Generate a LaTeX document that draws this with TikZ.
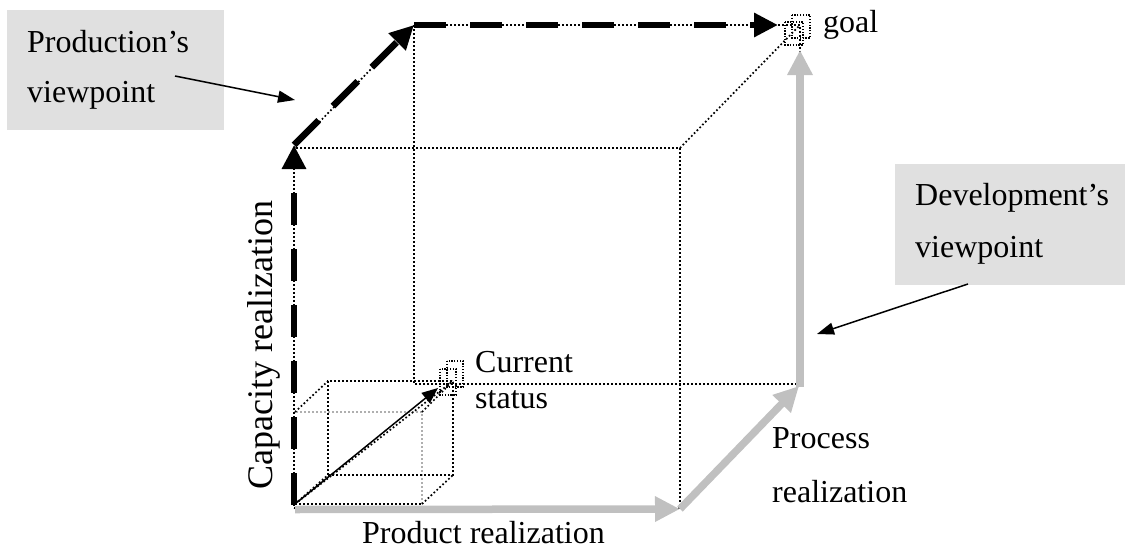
\documentclass[tikz,border=0pt]{standalone}
\usepackage{fontspec}
\setmainfont{Liberation Serif}
\usetikzlibrary{arrows.meta}
\definecolor{lgrey}{RGB}{192,192,192}
\definecolor{hgrey}{RGB}{175,175,175}
\definecolor{boxgrey}{RGB}{224,224,224}
\begin{document}
\begin{tikzpicture}[x=1pt,y=-1pt,
  edge/.style={line width=1.7pt, dash pattern=on 1.7pt off 2.3pt},
  hidden/.style={edge, draw=hgrey},
  fine/.style={line width=1.3pt, dash pattern=on 1.3pt off 1.5pt},
  devpath/.style={draw=lgrey, line width=7.5pt, line cap=butt, -{Triangle[length=25pt 0 0,width=24pt 0 0]}},
  prodthick/.style={line width=6.5pt, dash pattern=on 32pt off 24pt, -{Triangle[length=24pt 0 0,width=23pt 0 0]}},
  pointer/.style={line width=1.5pt, -{Triangle[length=17pt 0 0,width=12pt 0 0]}},
  lbl/.style={font=\fontsize{32}{36}\selectfont, inner sep=0pt},
  vpbox/.style={fill=boxgrey, draw=none, inner sep=0pt},
]
\useasboundingbox (0,0) rectangle (1125,549);

% big cube corners
\coordinate (F1) at (294,508);
\coordinate (F2) at (680,508);
\coordinate (F3) at (680,148);
\coordinate (F4) at (294,148);
\coordinate (B1) at (414,384);
\coordinate (B2) at (800,384);
\coordinate (B3) at (800,25);
\coordinate (B4) at (414,25);

% small cube corners
\coordinate (s1) at (295,504);
\coordinate (s2) at (422,504);
\coordinate (s3) at (422,412);
\coordinate (s4) at (295,412);
\coordinate (t1) at (328,475);
\coordinate (t2) at (453,475);
\coordinate (t3) at (453,381);
\coordinate (t4) at (328,381);

% big cube edges
\draw[edge] (F1) -- (F2) -- (F3) -- (F4) -- cycle;
\draw[edge] (B4) -- (B3) -- (B2) -- (B1) -- cycle;
\draw[edge] (F4) -- (B4);
\draw[edge] (F3) -- (B3);
\draw[edge] (F2) -- (B2);

% grey (development) path, over the cube edges
\coordinate (g0) at (295,509.5);
\coordinate (g1) at (680,509);
\coordinate (g2) at (799,386);
\coordinate (g3) at (800,387);
\coordinate (g4) at (800,50);
\draw[devpath] (g0) -- (g1);
\draw[devpath] (g1) -- (g2);
\draw[devpath] (g3) -- (g4);

% small cube
\draw[hidden] (s2) -- (s3) -- (s4);
\draw[edge] (s1) -- (s2);
\draw[edge] (t1) -- (t2) -- (t3) -- (t4) -- cycle;
\draw[edge] (s1) -- (t1);
\draw[edge] (s2) -- (t2);
\draw[edge] (s3) -- (t3);
\draw[edge] (s4) -- (t4);
\draw[edge] (s1) -- (t3);

% markers
\draw[fine] (440,369) rectangle (456,395);
\draw[fine] (447,361) rectangle (463,387);
\draw[fine] (785,22) rectangle (803,45);
\draw[fine] (792,15) rectangle (810,38);
\coordinate (cur) at (438,388);
\coordinate (goalpt) at (778,25);

% production path (black dashes)
\coordinate (p0) at (294,505);
\coordinate (p1) at (294,145);
\coordinate (p2) at (414,25);
\draw[prodthick] (p0) -- (p1);
\draw[prodthick, dash pattern=on 35pt off 20pt] (p1) -- (p2);
\draw[prodthick] (p2) -- (goalpt);

% current status arrow
\draw[line width=1.5pt, -{Triangle[length=16pt 0 0,width=13pt 0 0]}] (s1) -- (cur);

% viewpoint boxes
\node[vpbox, anchor=north west, minimum width=217pt, minimum height=120pt] (prodbox) at (7,10) {};
\node[lbl, anchor=base west] (prodA) at (27,52) {Production’s};
\node[lbl, anchor=base west] (prodB) at (27,102) {viewpoint};
\node[vpbox, anchor=north west, minimum width=230pt, minimum height=121pt] (devbox) at (895,164) {};
\node[lbl, anchor=base west] (devA) at (915,205) {Development’s};
\node[lbl, anchor=base west] (devB) at (915,257) {viewpoint};

\coordinate (pp0) at (175,76);
\coordinate (pp1) at (295,100);
\draw[pointer] (pp0) -- (pp1);
\coordinate (dp0) at (968,284);
\coordinate (dp1) at (817,334);
\draw[pointer] (dp0) -- (dp1);

% labels
\node[lbl, anchor=base west] (goal) at (823,32) {goal};
\node[lbl, anchor=base west] (curA) at (475,372) {Current};
\node[lbl, anchor=base west] (curB) at (475,408) {status};
\node[lbl, anchor=base west] (procA) at (772,448) {Process};
\node[lbl, anchor=base west] (procB) at (772,502) {realization};
\node[lbl, anchor=base west] (prodr) at (362,543) {Product realization};
\node[lbl, font=\fontsize{36}{40}\selectfont, rotate=90, anchor=base] (capr) at (272,345) {Capacity realization};
\end{tikzpicture}
\end{document}
